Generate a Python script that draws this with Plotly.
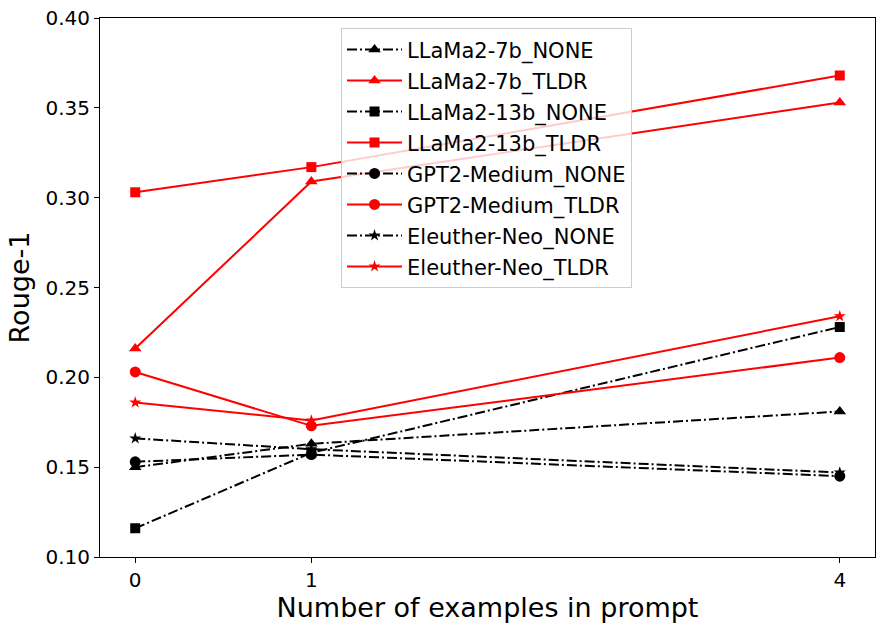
import plotly.graph_objects as go

# number of examples in prompt
shots = [0, 1, 4]
y_ticks = [0.10, 0.15, 0.20, 0.25, 0.30, 0.35, 0.40]

llama7b_none = [0.150, 0.163, 0.181]
llama7b_tldr = [0.216, 0.309, 0.353]
llama13b_none = [0.116, 0.158, 0.228]
llama13b_tldr = [0.303, 0.317, 0.368]
gpt2_none = [0.153, 0.157, 0.145]
gpt2_tldr = [0.203, 0.173, 0.211]
neo_none = [0.166, 0.160, 0.147]
neo_tldr = [0.186, 0.176, 0.234]

dashdot = "10px,3px,2px,3px"
series = [
    ("LLaMa2-7b_NONE", llama7b_none, "black", "triangle-up", dashdot),
    ("LLaMa2-7b_TLDR", llama7b_tldr, "red", "triangle-up", "solid"),
    ("LLaMa2-13b_NONE", llama13b_none, "black", "square", dashdot),
    ("LLaMa2-13b_TLDR", llama13b_tldr, "red", "square", "solid"),
    ("GPT2-Medium_NONE", gpt2_none, "black", "circle", dashdot),
    ("GPT2-Medium_TLDR", gpt2_tldr, "red", "circle", "solid"),
    ("Eleuther-Neo_NONE", neo_none, "black", "star", dashdot),
    ("Eleuther-Neo_TLDR", neo_tldr, "red", "star", "solid"),
]
msize = {"triangle-up": 11, "square": 10, "circle": 11, "star": 9}

fig = go.Figure()
for name, vals, col, sym, dash in series:
    fig.add_trace(go.Scatter(
        x=shots, y=vals, name=name, mode="lines+markers", legendgroup=name,
        line=dict(color=col, width=2, dash=dash),
        marker=dict(symbol=sym, size=msize[sym], color=col),
    ))

fig.update_layout(
    width=884, height=630,
    paper_bgcolor="white", plot_bgcolor="white",
    margin=dict(l=100, r=9, t=18, b=73),
    font=dict(family="DejaVu Sans", size=20, color="black"),
    legend=dict(x=0.311, y=0.981, xanchor="left", yanchor="top",
                bgcolor="rgba(255,255,255,0.8)", bordercolor="#cccccc", borderwidth=1,
                font=dict(size=21), itemwidth=55, tracegroupgap=0.7),
)
fig.update_xaxes(
    range=[-0.2, 4.2], tickvals=shots, ticktext=[str(s) for s in shots],
    automargin=False,
    showline=True, linecolor="black", linewidth=1, mirror=True,
    ticks="outside", ticklen=5, tickcolor="black", showgrid=False, zeroline=False,
    title=dict(text="Number of examples in prompt", font=dict(size=27), standoff=6),
)
fig.update_yaxes(
    range=[0.10, 0.40], tickvals=y_ticks, ticktext=["%.2f" % v for v in y_ticks],
    ticklabeloverflow="allow", automargin=False,
    showline=True, linecolor="black", linewidth=1, mirror=True,
    ticks="outside", ticklen=5, tickcolor="black", showgrid=False, zeroline=False,
    title=dict(text="Rouge-1", font=dict(size=27), standoff=8),
)

# drop the default 8px body margin so the figure fills the window
fig.write_html("out.html", config=dict(displayModeBar=False),
               post_script="document.body.style.margin='0';")
